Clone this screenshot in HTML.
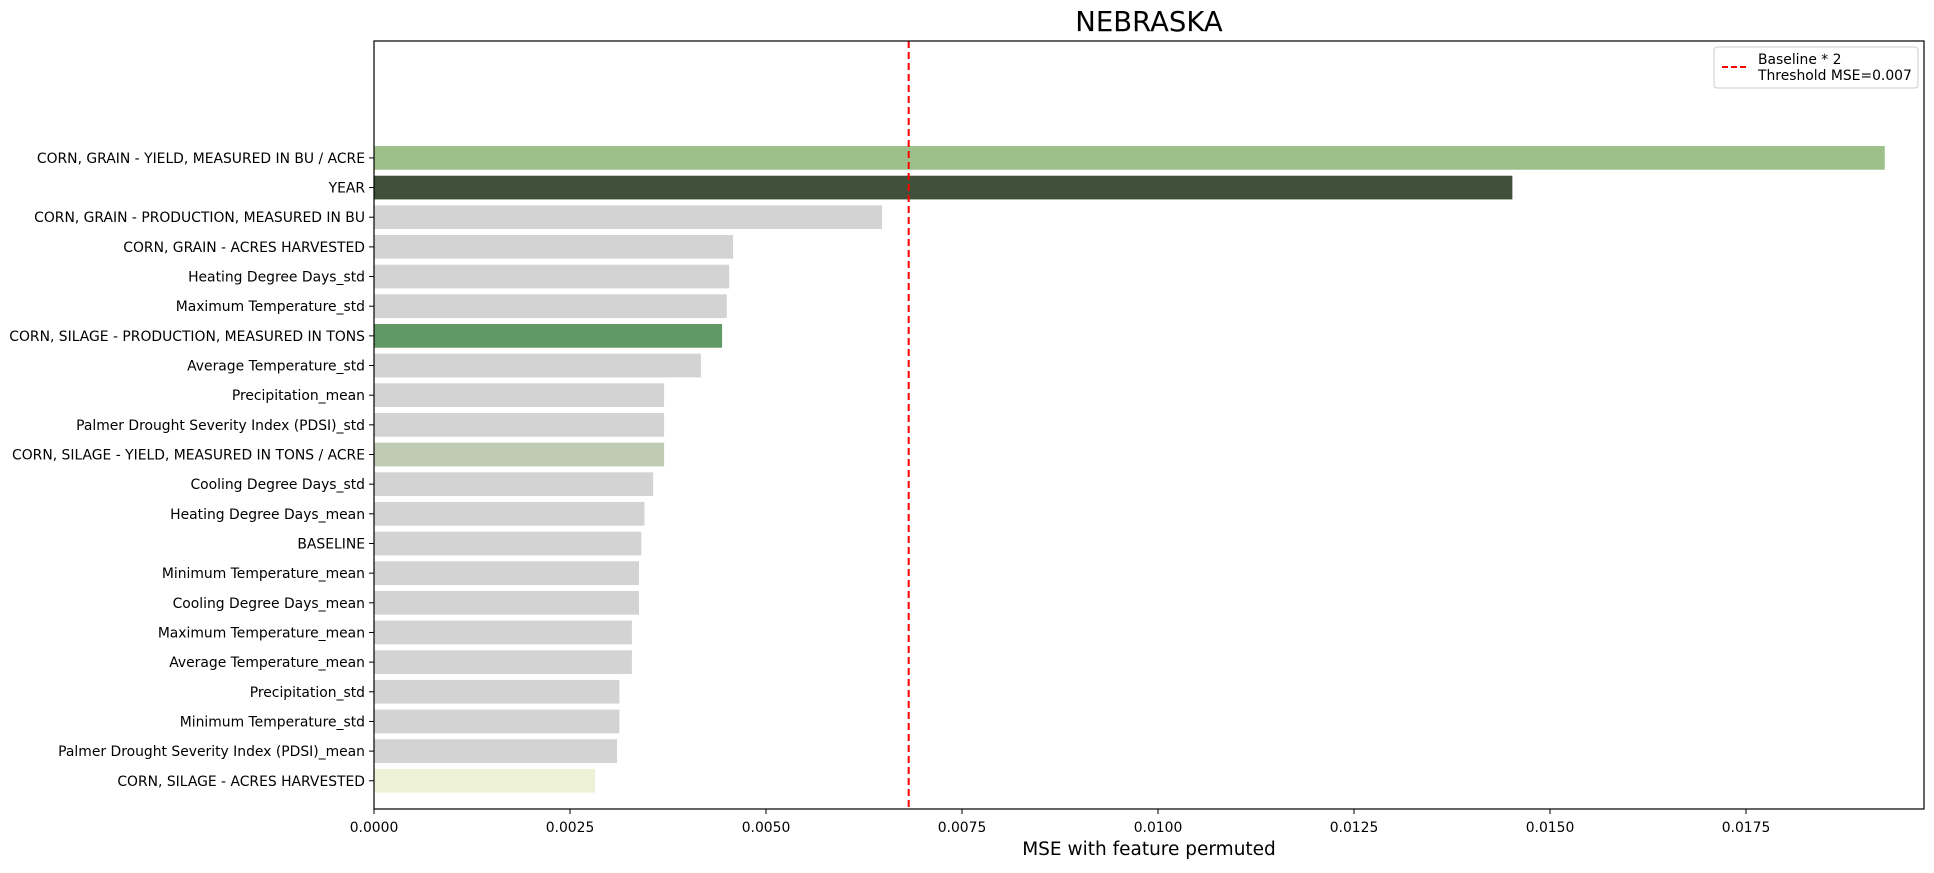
<!DOCTYPE html>
<html><head><meta charset="utf-8"><style>body{margin:0;background:#fff}svg text{font-family:"DejaVu Sans","Liberation Sans",sans-serif}</style></head>
<body>
<svg id="chart" width="1934" height="868" xmlns="http://www.w3.org/2000/svg">
<text x="1149" y="31" font-size="27.5" text-anchor="middle">NEBRASKA</text>
<g id="bars"></g>
<g id="yaxis"></g>
<g id="xaxis"></g>
<line id="thr" y1="41" y2="809" stroke="#ff0000" stroke-width="2" stroke-dasharray="7,4"/>
<rect x="374" y="41" width="1550" height="768" fill="none" stroke="#000" stroke-width="1.2"/>
<text x="1149" y="855" font-size="18.5" text-anchor="middle">MSE with feature permuted</text>
<g>
<rect x="1714" y="47" width="204" height="41" rx="3" fill="#fff" stroke="#ccc"/>
<line x1="1722" y1="67" x2="1747" y2="67" stroke="#ff0000" stroke-width="2" stroke-dasharray="6,3"/>
<text x="1758" y="64" font-size="13.9">Baseline * 2</text>
<text x="1758" y="80" font-size="13.9">Threshold MSE=0.007</text>
</g>
</svg>
<script>
const categories=["CORN, GRAIN - YIELD, MEASURED IN BU / ACRE","YEAR","CORN, GRAIN - PRODUCTION, MEASURED IN BU","CORN, GRAIN - ACRES HARVESTED","Heating Degree Days_std","Maximum Temperature_std","CORN, SILAGE - PRODUCTION, MEASURED IN TONS","Average Temperature_std","Precipitation_mean","Palmer Drought Severity Index (PDSI)_std","CORN, SILAGE - YIELD, MEASURED IN TONS / ACRE","Cooling Degree Days_std","Heating Degree Days_mean","BASELINE","Minimum Temperature_mean","Cooling Degree Days_mean","Maximum Temperature_mean","Average Temperature_mean","Precipitation_std","Minimum Temperature_std","Palmer Drought Severity Index (PDSI)_mean","CORN, SILAGE - ACRES HARVESTED"];
const values=[0.01927,0.01452,0.00648,0.00458,0.00453,0.00450,0.00444,0.00417,0.00370,0.00370,0.00370,0.00356,0.00345,0.00341,0.00338,0.00338,0.00329,0.00329,0.00313,0.00313,0.00310,0.00282];
const barColors=["#9dc08b","#40513b","#d3d3d3","#d3d3d3","#d3d3d3","#d3d3d3","#609966","#d3d3d3","#d3d3d3","#d3d3d3","#bfcbb5","#d3d3d3","#d3d3d3","#d3d3d3","#d3d3d3","#d3d3d3","#d3d3d3","#d3d3d3","#d3d3d3","#d3d3d3","#d3d3d3","#edf1d6"];
const xTicks=[0,0.0025,0.005,0.0075,0.01,0.0125,0.015,0.0175];
const xTickLabels=["0.0000","0.0025","0.0050","0.0075","0.0100","0.0125","0.0150","0.0175"];
const threshold=0.00682;
const NS="http://www.w3.org/2000/svg";
const x=v=>374+v/0.0025*196;
const y=i=>157.9+i*29.66;
const bh=23.7;
function mk(t,a,p){const e=document.createElementNS(NS,t);for(const k in a)e.setAttribute(k,a[k]);p.appendChild(e);return e;}
const gb=document.getElementById('bars'),gy=document.getElementById('yaxis'),gx=document.getElementById('xaxis');
categories.forEach((c,i)=>{
 const r=mk('rect',{x:x(0),y:y(i)-bh/2,width:x(values[i])-x(0),height:bh,fill:barColors[i]},gb);
 
 
 mk('line',{x1:369,x2:374,y1:y(i),y2:y(i),stroke:'#000'},gy);
 const t=mk('text',{x:365,y:y(i)+5,'font-size':13.9,'text-anchor':'end'},gy);
 t.textContent=c;
 
 
});
xTicks.forEach((v,i)=>{
 mk('line',{x1:x(v),x2:x(v),y1:809,y2:814,stroke:'#000'},gx);
 const t=mk('text',{x:x(v),y:832,'font-size':13.9,'text-anchor':'middle'},gx);
 t.textContent=xTickLabels[i];
 
 
});
const th=document.getElementById('thr');th.setAttribute('x1',x(threshold));th.setAttribute('x2',x(threshold));
</script>
</body></html>
